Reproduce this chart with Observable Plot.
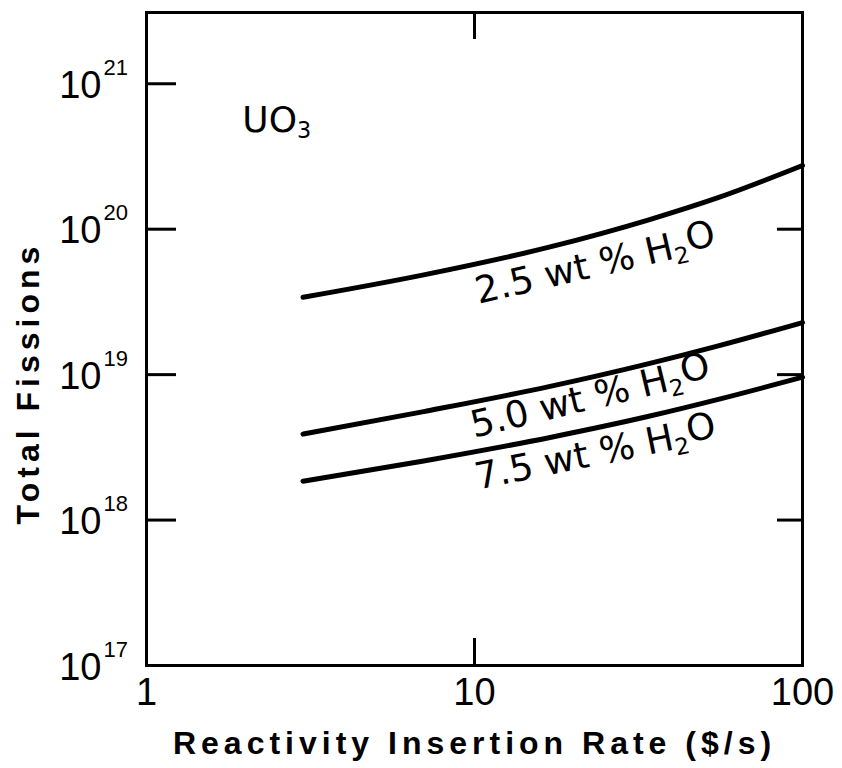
<!DOCTYPE html>
<html>
<head>
<meta charset="utf-8">
<script src="https://cdn.jsdelivr.net/npm/d3@7"></script>
<script src="https://cdn.jsdelivr.net/npm/@observablehq/plot@0.6"></script>
<style>
  html, body { margin: 0; padding: 0; background: #fff; }
  #chart { width: 842px; height: 768px; }
</style>
</head>
<body>
<div id="chart"></div>
<script>
// ---- data ----
const rate = [3, 7, 17, 34, 55, 100];                              // $/s
const fissions25 = [3.4e19, 4.85e19, 7.55e19, 1.16e20, 1.64e20, 2.74e20];
const fissions50 = [3.9e18, 5.57e18, 8.3e18, 1.19e19, 1.57e19, 2.28e19];
const fissions75 = [1.85e18, 2.55e18, 3.7e18, 5.17e18, 6.73e18, 9.6e18];
const seriesNames = ["2.5 wt % H2O", "5.0 wt % H2O", "7.5 wt % H2O"];

const xTickValues = [1, 10, 100];
const yTickValues = [1e17, 1e18, 1e19, 1e20, 1e21];
const rightTickValues = [1e18, 1e19, 1e20];
const innerXTickValues = [10];

const xTitle = "Reactivity Insertion Rate ($/s)";
const yTitle = "Total Fissions";
const materialLabel = "UO3";
const materialAt = [{x: 1.96, y: 5.6e20}];
const labelAt = [
  {x: 23.4, y: 5.7e19},
  {x: 22.6, y: 6.95e18},
  {x: 23.4, y: 2.87e18}
];
const labelAngle = [-13, -13.5, -11.5];

// ---- build tables ----
const curves = [fissions25, fissions50, fissions75].flatMap((vals, s) =>
  vals.map((v, i) => ({series: seriesNames[s], x: rate[i], y: v})));
const labels = labelAt.map((p, i) => ({...p, text: seriesNames[i], angle: labelAngle[i]}));

const W = 842, H = 768, ML = 146, MR = 40, MT = 12, MB = 103;
const PW = W - ML - MR, PH = H - MT - MB;
const font = "'Liberation Sans', 'DejaVu Sans', sans-serif";
const labelFont = "'DejaVu Sans', sans-serif";

const chart = Plot.plot({
  width: W, height: H,
  marginLeft: ML, marginRight: MR, marginTop: MT, marginBottom: MB,
  style: {fontFamily: font, background: "#fff", color: "#000"},
  x: {type: "log", domain: [1, 100], axis: null},
  y: {type: "log", domain: [1e17, Math.pow(10, 21.49)], axis: null},
  marks: [
    Plot.frame({stroke: "#000", strokeWidth: 3}),
    // inward ticks
    Plot.tickY(yTickValues.slice(1), {y: d => d, insetRight: PW - 30, stroke: "#000", strokeWidth: 3}),
    Plot.tickY(rightTickValues, {y: d => d, insetLeft: PW - 25, stroke: "#000", strokeWidth: 3}),
    Plot.tickX(innerXTickValues, {x: d => d, insetBottom: PH - 27, stroke: "#000", strokeWidth: 3}),
    Plot.tickX(innerXTickValues, {x: d => d, insetTop: PH - 27, stroke: "#000", strokeWidth: 3}),
    // y tick labels 10^n
    Plot.text(yTickValues, {y: d => d, frameAnchor: "left", text: () => "10", textAnchor: "end",
      dx: -45, dy: 2, fontSize: 38, fill: "#000"}),
    Plot.text(yTickValues, {y: d => d, frameAnchor: "left", text: d => String(Math.round(Math.log10(d))),
      textAnchor: "start", dx: -43, dy: -16, fontSize: 22, fill: "#000"}),
    // x tick labels
    Plot.text(xTickValues, {x: d => d, frameAnchor: "bottom", text: d => String(d), lineAnchor: "top",
      dy: 13, fontSize: 38, fill: "#000"}),
    // axis titles
    Plot.text([xTitle], {frameAnchor: "bottom", text: d => d, textAnchor: "middle", dy: 88, fontSize: 32,
      fontWeight: "bold", fill: "#000"}),
    Plot.text([yTitle], {frameAnchor: "left", text: d => d, textAnchor: "middle", rotate: -90, dx: -118, dy: 44,
      fontSize: 32, fontWeight: "bold", fill: "#000"}),
    // curves
    Plot.line(curves, {x: "x", y: "y", z: "series", curve: "monotone-x", stroke: "#000", strokeWidth: 5,
      strokeLinecap: "round"}),
    // labels
    Plot.text(labels, {x: "x", y: "y", text: "text", rotate: "angle", fontSize: 37,
      fontFamily: labelFont, fill: "#000"}),
    Plot.text(materialAt, {x: "x", y: "y", text: () => materialLabel, textAnchor: "start", fontSize: 36,
      fontFamily: labelFont, fill: "#000"})
  ]
});
document.getElementById("chart").appendChild(chart);

// hand-lettering details: letter spacing and chemical subscripts
d3.select(chart).selectAll("text").each(function () {
  const sel = d3.select(this);
  const t = this.textContent;
  if (t === xTitle) sel.attr("letter-spacing", 5);
  if (t === yTitle) sel.attr("letter-spacing", 5);
  const m = /^(.*?)(H|UO)(\d)(O?)$/.exec(t);
  if (m) {
    sel.text(null);
    sel.append("tspan").text(m[1] + m[2]);
    sel.append("tspan").attr("font-size", "0.62em").attr("dy", "0.28em").text(m[3]);
    if (m[4]) sel.append("tspan").attr("dy", "-0.28em").text(m[4]);
  }
});
</script>
</body>
</html>
